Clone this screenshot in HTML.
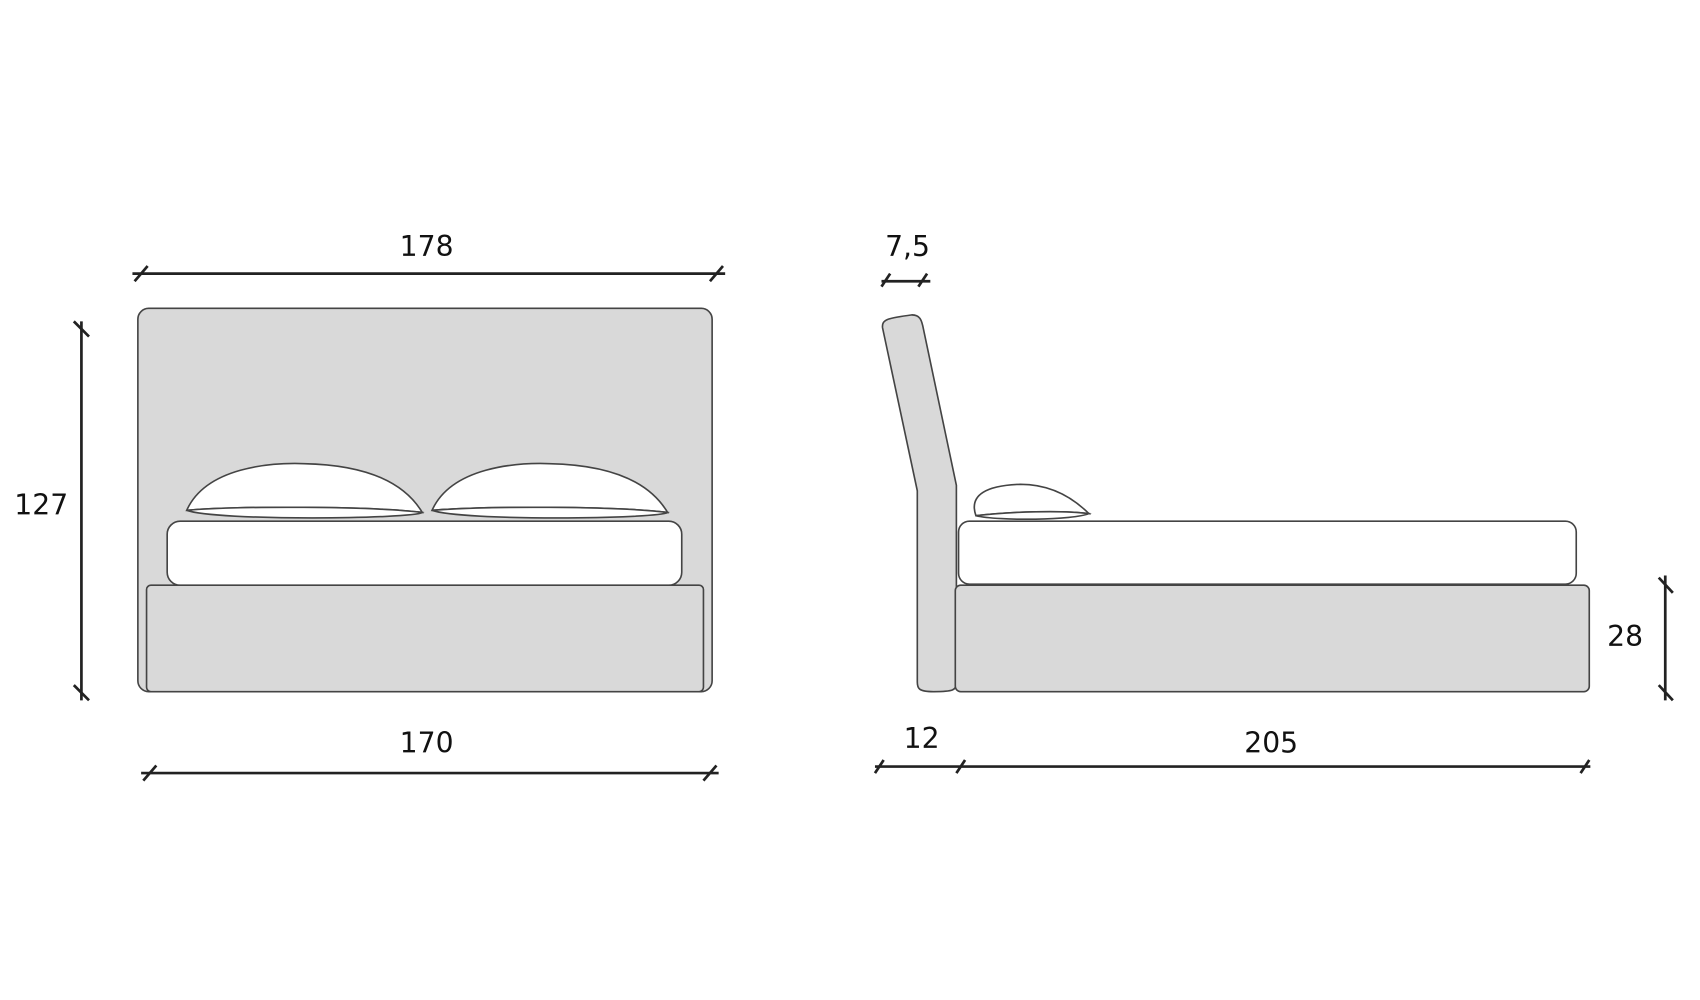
<!DOCTYPE html>
<html><head><meta charset="utf-8"><style>html,body{margin:0;padding:0;background:#fff;width:1700px;height:1000px;overflow:hidden}svg{display:block}</style></head>
<body>
<svg width="1700" height="1000" viewBox="0 0 1566 921" preserveAspectRatio="none" xmlns="http://www.w3.org/2000/svg">
<g font-family="'DejaVu Sans','Liberation Sans',sans-serif" font-size="26" fill="#111" text-anchor="middle">
<text x="393" y="236">178</text>
<text x="38" y="474">127</text>
<text x="393" y="693">170</text>
<text x="836" y="236">7,5</text>
<text x="1497" y="595">28</text>
<text x="849" y="689">12</text>
<text x="1171" y="693">205</text>
</g>
<g stroke="#222" stroke-width="2.5" fill="none">
<line x1="122" y1="252" x2="668" y2="252"/><line x1="124" y1="259" x2="136" y2="245"/><line x1="654" y1="259" x2="666" y2="245"/>
<line x1="75" y1="296" x2="75" y2="645"/><line x1="68" y1="296" x2="82" y2="310"/><line x1="68" y1="631" x2="82" y2="645"/>
<line x1="130" y1="712" x2="662" y2="712"/><line x1="132" y1="719" x2="144" y2="705"/><line x1="648" y1="719" x2="660" y2="705"/>
<line x1="812" y1="259" x2="857" y2="259"/><line x1="812" y1="264" x2="820" y2="252"/><line x1="846" y1="264" x2="854" y2="252"/>
<line x1="1534" y1="530" x2="1534" y2="645"/><line x1="1528" y1="532" x2="1541" y2="546"/><line x1="1528" y1="631" x2="1541" y2="645"/>
<line x1="806" y1="706" x2="1465" y2="706"/><line x1="806" y1="712" x2="814" y2="700"/><line x1="881" y1="712" x2="889" y2="700"/><line x1="1456" y1="712" x2="1464" y2="700"/>
</g>
<g stroke="#444" stroke-width="1.5">
<rect x="127" y="284" width="529" height="353" rx="10" fill="#d9d9d9"/>
<rect x="135" y="539" width="513" height="98" rx="4" fill="#d9d9d9"/>
<rect x="154" y="480" width="474" height="59" rx="12" fill="#fff"/>
<path d="M172 470 C190 430 250 426 280 427 C330 428 370 440 389 472 C340 466 220 466 172 470 Z" fill="#fff"/>
<path d="M172 470 C220 466 340 466 389 472 C380 478 200 480 172 470 Z" fill="#fff"/>
<path d="M398 470 C416 430 476 426 506 427 C556 428 596 440 615 472 C566 466 446 466 398 470 Z" fill="#fff"/>
<path d="M398 470 C446 466 566 466 615 472 C606 478 426 480 398 470 Z" fill="#fff"/>
<path d="M813 302 C812 294 818 293 840 290 C848 290 849 296 850 300 L881 447 L881 628 C881 636 878 637 860 637 C846 637 845 634 845 628 L845 452 Z" fill="#d9d9d9"/>
<rect x="880" y="539" width="584" height="98" rx="5" fill="#d9d9d9"/>
<rect x="883" y="480" width="569" height="58" rx="10" fill="#fff"/>
<path d="M899 475 C892 455 910 447 940 446 C970 446 990 460 1003 473 C980 470 930 471 899 475 Z" fill="#fff"/>
<path d="M899 475 C930 471 980 470 1003 473 C990 479 920 480 899 475 Z" fill="#fff"/>
</g>
</svg>
</body></html>
